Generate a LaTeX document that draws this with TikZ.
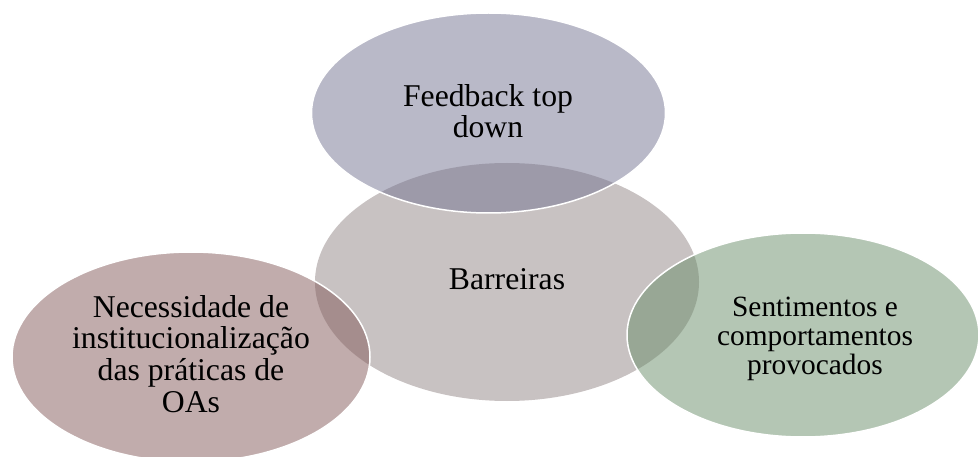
\documentclass[tikz,border=0pt]{standalone}
\usepackage{fontspec}
\setmainfont{Liberation Serif}
\usetikzlibrary{shapes.geometric}
\definecolor{cCenter}{RGB}{200,194,194}
\definecolor{cTop}{RGB}{115,115,145}
\definecolor{cLeft}{RGB}{131,89,89}
\definecolor{cRight}{RGB}{105,141,105}
\tikzset{
  blob/.style={ellipse, inner sep=0pt, minimum width=#1},
  satellite/.style={draw=white, line width=1.5pt, fill opacity=0.5, draw opacity=1},
  lbl/.style={align=center, inner sep=0pt, text=black},
  bigfont/.style={font=\fontsize{31.7}{31.7}\selectfont},
  smallfont/.style={font=\fontsize{29.4}{29.2}\selectfont}
}
\begin{document}
\begin{tikzpicture}[x=1pt, y=-1pt]
\useasboundingbox (0,0) rectangle (978,457);
\clip (0,0) rectangle (978,457);
% centre ellipse
\node[blob=384pt, minimum height=238pt, fill=cCenter] (center) at (507,282) {};
% satellites
\node[blob=354pt, minimum height=200pt, satellite, fill=cTop] (top) at (488.5,113) {};
\node[blob=358pt, minimum height=210pt, satellite, fill=cLeft] (left) at (191,357) {};
\node[blob=352pt, minimum height=204pt, satellite, fill=cRight] (right) at (803,335) {};
% labels
\node[lbl, bigfont, anchor=base] (tcenter) at (507,290) {Barreiras};
\node[lbl, bigfont, anchor=north] (ttop) at (488,83.8) {\strut Feedback top\\\strut down};
\node[lbl, bigfont, anchor=north] (tleft) at (191,294.8) {\strut Necessidade de\\\strut institucionalização\\\strut das práticas de\\\strut OAs};
\node[lbl, smallfont, anchor=north] (tright) at (815,295.6) {\strut Sentimentos e\\\strut comportamentos\\\strut provocados};
\end{tikzpicture}
\end{document}
